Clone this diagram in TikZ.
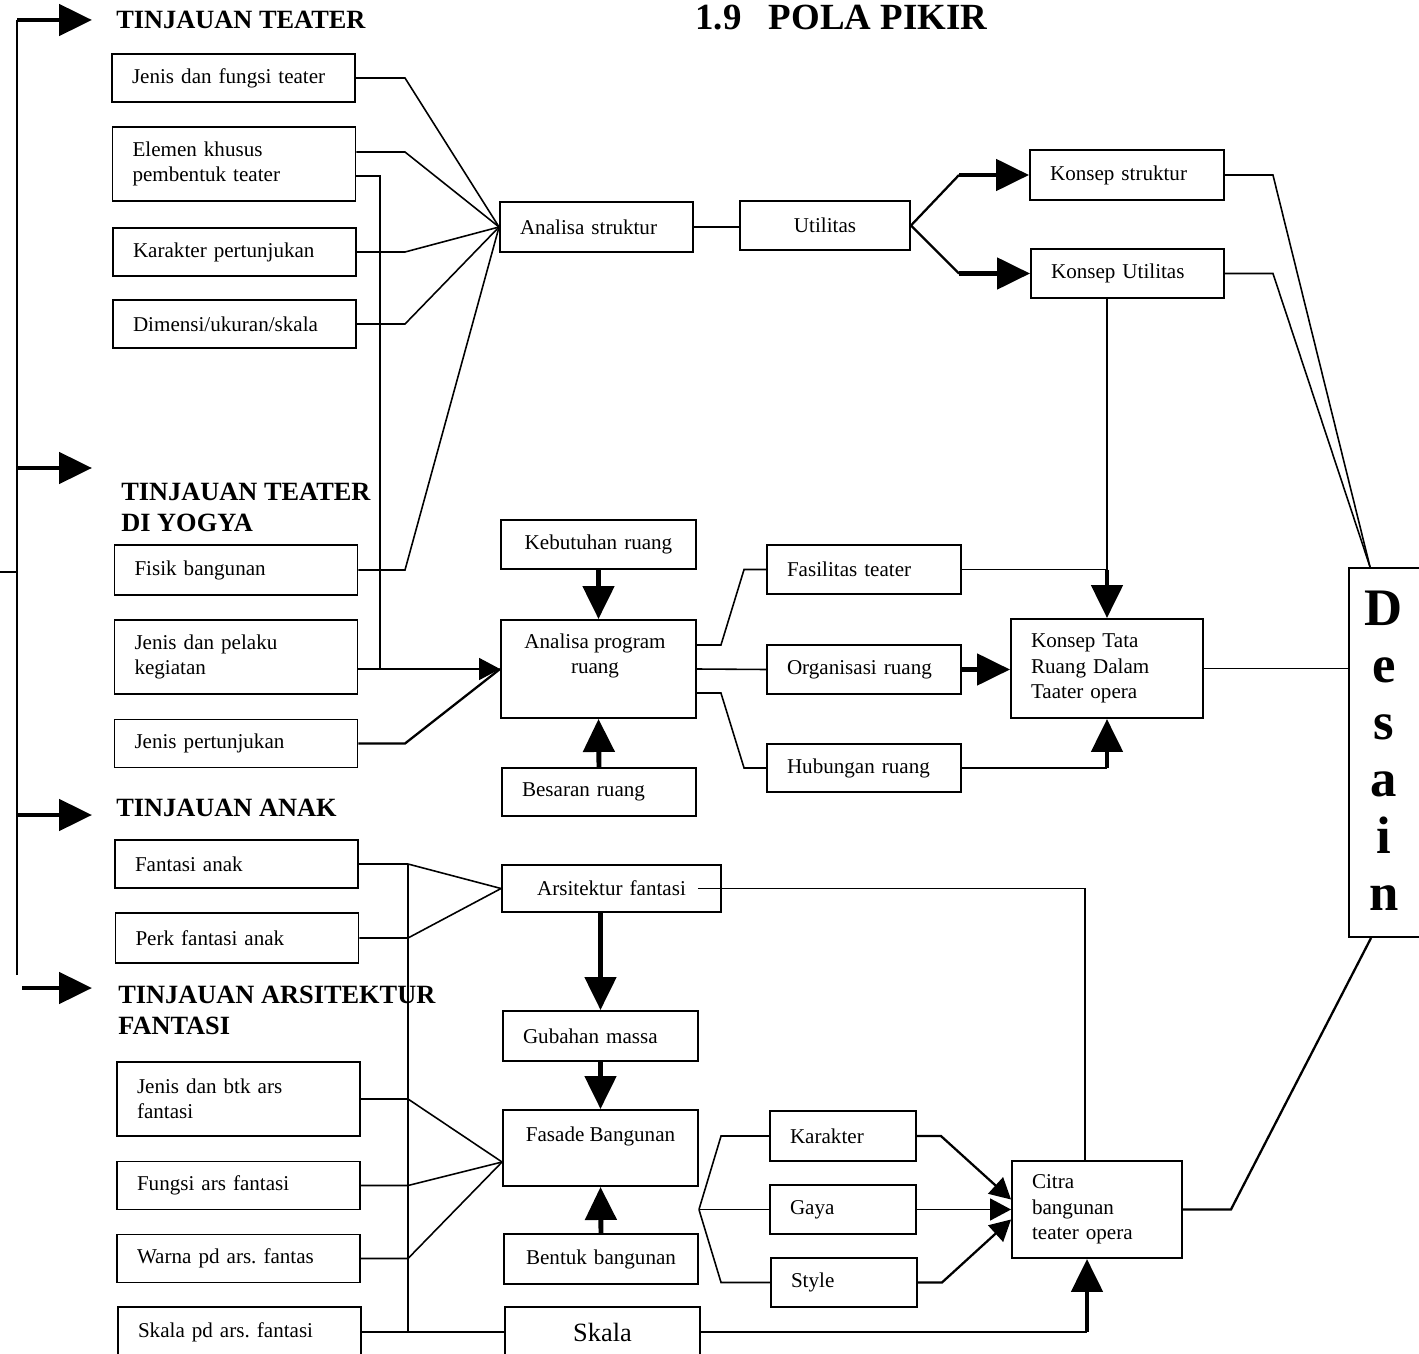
\documentclass[tikz,border=0pt]{standalone}
\usepackage{fontspec}
\setmainfont{Liberation Serif}
\usetikzlibrary{arrows.meta,calc}
\frenchspacing

\tikzset{
  kotak/.style={draw, line width=1.1pt, inner xsep=0.4cm, inner ysep=0pt, align=left,
    font=\fontsize{12}{14.4}\selectfont},
  kiri/.style={kotak, text width=4.06cm, minimum height=#1},
  kiri/.default=0.96cm,
  teks/.style={inner sep=0pt, align=center, font=\fontsize{12}{14.4}\selectfont},
  garis/.style={line width=0.9pt},
  panah/.style={line width=2.8pt, -{Triangle[length=0.66cm,width=0.62cm]}},
  panahkecil/.style={line width=1.3pt, -{Triangle[length=0.42cm,width=0.44cm]}},
  judul/.style={font=\fontsize{15}{17.6}\selectfont\bfseries, anchor=base west, align=left, inner sep=0pt},
  judulbesar/.style={font=\fontsize{21}{25}\selectfont\bfseries, anchor=base west, inner sep=0pt},
}

\begin{document}
\begin{tikzpicture}[x=0.02cm,y=-0.02cm]
\useasboundingbox (0,0) rectangle (1419,1354);
%%% Judul
	\node[judulbesar] (judul) at (695,30) {1.9\hspace{0.55cm}POLA PIKIR};
%%% Garis kiri, panah ke tinjauan
	\draw[garis, line width=1.3pt] (17,975) -- (17,20);
	\draw[garis] (0,572) -- (17,572);
	\foreach \y/\n in {20/a,468/b,815/c}{
		\coordinate (ujung-\n) at (92,\y);
		\draw[panah] (17,\y) -- (ujung-\n);
	}
	\coordinate (ujung-d) at (92,988);
	\draw[panah] (22,988) -- (ujung-d);
	% baseline = baris terakhir
	\node[judul] (t-teater) at (116,29) {TINJAUAN TEATER};
	\node[judul] (t-yogya) at (121,531) {TINJAUAN TEATER\\DI YOGYA};
	\node[judul] (t-anak) at (116,816) {TINJAUAN ANAK};
	\node[judul] (t-ars) at (118,1034) {TINJAUAN ARSITEKTUR\\FANTASI};
%%% Tinjauan teater
	\node[kiri] (jenis) at (233.5,78) {Jenis dan fungsi teater};
	\node[kiri=1.48cm] (elemen) at (234,164) {Elemen khusus\\pembentuk teater};
	\node[kiri] (karakter) at (234.5,252) {Karakter pertunjukan};
	\node[kiri] (dimensi) at (234.5,324) {Dimensi/ukuran/skala};
%%% Tinjauan teater di Yogya
	\node[kiri=1.0cm] (fisik) at (236,570) {Fisik bangunan};
	\node[kiri=1.48cm] (pelaku) at (236,657) {Jenis dan pelaku\\kegiatan};
	\node[kiri] (jpert) at (236,743.5) {Jenis pertunjukan};
%%% Tinjauan anak
	\node[kiri] (fanak) at (236.5,864) {Fantasi anak};
	\node[kiri=1.0cm] (perk) at (237,938) {Perk fantasi anak};
%%% Tinjauan arsitektur fantasi
	\node[kiri=1.48cm] (jbtk) at (238.5,1099) {Jenis dan btk ars\\fantasi};
	\node[kiri] (fungsi) at (238.5,1185.5) {Fungsi ars fantasi};
	\node[kiri] (warna) at (238.5,1258.5) {Warna pd ars. fantas};
	\node[kiri=1.0cm] (skalapd) at (239.5,1332) {Skala pd ars. fantasi};
%%% Analisa dan konsep
	\node[kotak, text width=3.06cm, minimum height=1cm] (astruk) at (596.5,227) {Analisa struktur};
	\node[kotak, text width=2.6cm, align=center, minimum height=0.98cm] (util) at (825,225.5) {Utilitas};
	\node[kotak, text width=3.08cm, minimum height=1cm] (kstruk) at (1127,175) {Konsep struktur};
	\node[kotak, text width=3.06cm, minimum height=0.98cm] (kutil) at (1127.5,273.5) {Konsep Utilitas};
	\node[kotak, text width=3.1cm, align=center, minimum height=0.98cm] (kebut) at (598.5,544.5) {Kebutuhan ruang};
	\node[kotak, text width=3.1cm, minimum height=1.96cm] (aprog) at (598.5,669) {};
	\node[teks] (aprog-teks) at (595,656) {Analisa program\\ruang};
	\node[kotak, text width=3.08cm, minimum height=0.96cm] (besar) at (599,792) {Besaran ruang};
	\node[kotak, text width=3.08cm, minimum height=0.98cm] (fasil) at (864,569.5) {Fasilitas teater};
	\node[kotak, text width=3.08cm, minimum height=0.98cm] (organ) at (864,669.5) {Organisasi ruang};
	\node[kotak, text width=3.08cm, minimum height=0.96cm] (hubung) at (864,768) {Hubungan ruang};
	\node[kotak, text width=3.04cm, minimum height=1.98cm] (ktata) at (1107,668.5) {Konsep Tata\\Ruang Dalam\\Taater opera};
	\node[kotak, text width=3.58cm, align=center, minimum height=0.94cm] (arsfan) at (611.5,888.5) {Arsitektur fantasi};
	\node[kotak, text width=3.1cm, minimum height=1cm] (gubah) at (600.5,1036) {Gubahan massa};
	\node[kotak, text width=3.1cm, minimum height=1.52cm] (fasade) at (600.5,1148) {};
	\node[teks] (fasade-teks) at (600.5,1136) {Fasade Bangunan};
	\node[kotak, text width=3.08cm, align=center, minimum height=1cm] (bentuk) at (601,1259) {Bentuk bangunan};
	\node[kotak, text width=3.1cm, align=center, minimum height=1cm, font=\fontsize{15}{18}\selectfont] (skala) at (602.5,1332) {Skala};
	\node[kotak, text width=2.12cm, minimum height=1cm] (karak) at (843,1136) {Karakter};
	\node[kotak, text width=2.12cm, minimum height=0.98cm] (gaya) at (843,1209.5) {Gaya};
	\node[kotak, text width=2.12cm, minimum height=0.98cm] (stl) at (844,1282.5) {Style};
	\node[kotak, text width=2.6cm, minimum height=1.94cm] (citra) at (1097,1209.5) {Citra\\bangunan\\teater opera};
	\node[kotak, minimum width=1.72cm, minimum height=7.38cm, inner sep=0pt] (desain) at (1392,752.5) {};
	\node[inner sep=0pt, align=center, font=\fontsize{30}{32.4}\selectfont\bfseries] (desain-teks) at (1384,751) {D\\e\\s\\a\\i\\n};
%%% Garis ke analisa struktur dan program ruang
	\coordinate (tekukA) at (405,0);
	\coordinate (tekukB) at (380,0);
	\coordinate (tekukC) at (408,0);
	\coordinate (elemen-atas) at ([yshift=0.24cm]elemen.east);
	\coordinate (elemen-bawah) at ([yshift=-0.24cm]elemen.east);
	\foreach \n in {jenis,elemen-atas,karakter,dimensi,fisik}{
		\draw[garis] (\n.east) -- (\n.east -| tekukA) -- (astruk.west);
	}
	\draw[garis] (elemen-bawah) -| (tekukB |- aprog.west);
	\draw[panahkecil, line width=0.9pt] (pelaku.east |- aprog.west) -- (aprog.west);
	\draw[garis, line width=1.3pt] (jpert.east) -- (jpert.east -| tekukA) -- (aprog.west);
%%% Struktur dan utilitas
	\draw[garis] (astruk.east) -- (astruk.east -| util.west);
	\coordinate (tekukD) at (959,0);
	\foreach \n in {kstruk,kutil}{
		\draw[garis, line width=1.3pt] (util.east) -- (\n.west -| tekukD);
		\draw[panah] (\n.west -| tekukD) -- (\n.west);
	}
	\coordinate (desain-atas) at ($(desain.north west)+(22,0)$);
	\foreach \n in {kstruk,kutil}{
		\draw[garis] (\n.east) -- ++(48,0) -- (desain-atas);
	}
%%% Program ruang
	\draw[panah] (kebut.south) -- (aprog.north);
	\draw[panah] (besar.north) -- (aprog.south);
	\coordinate (aprog-atas) at ([yshift=0.48cm]aprog.east);
	\coordinate (aprog-bawah) at ([yshift=-0.48cm]aprog.east);
	\draw[garis] (aprog-atas) -- ++(24,0) -- ($(fasil.west)+(-22,0)$) -- (fasil.west);
	\draw[garis] (aprog.east) -- (organ.west);
	\draw[garis] (aprog-bawah) -- ++(24,0) -- ($(hubung.west)+(-22,0)$) -- (hubung.west);
	\draw[panah] (organ.east) -- (organ.east -| ktata.west);
	\draw[garis] (fasil.east) -- (fasil.east -| ktata.north);
	\draw[garis] (kutil.south -| ktata.north) -- (fasil.east -| ktata.north);
	\draw[panah] (fasil.east -| ktata.north) -- (ktata.north);
	\draw[garis] (hubung.east) -- (hubung.east -| ktata.south);
	\draw[panah] (hubung.east -| ktata.south) -- (ktata.south);
	\draw[garis] (ktata.east) -- (ktata.east -| desain.west);
%%% Arsitektur fantasi
	\foreach \n in {fanak,perk}{
		\draw[garis] (\n.east) -- (\n.east -| tekukC) -- (arsfan.west);
	}
	\coordinate (fasade-kiri) at ([yshift=-0.28cm]fasade.west);
	\foreach \n in {jbtk,fungsi,warna}{
		\draw[garis] (\n.east) -- (\n.east -| tekukC) -- (fasade-kiri);
	}
	\draw[garis] (fanak.east -| tekukC) -- (tekukC |- skala.west) -- (skala.west);
	\draw[garis] (skalapd.east) -- (skala.west);
	\draw[panah] (arsfan.south -| gubah.north) -- (gubah.north);
	\draw[panah] (gubah.south) -- (fasade.north);
	\draw[panah] (bentuk.north) -- (fasade.south);
%%% Citra bangunan
	\coordinate (cabang) at (fasade.east |- gaya.west);
	\draw[garis] (cabang) -- ($(karak.west)+(-48,0)$) -- (karak.west);
	\draw[garis] (cabang) -- (gaya.west);
	\draw[garis] (cabang) -- ($(stl.west)+(-49,0)$) -- (stl.west);
	\draw[panahkecil] (karak.east) -- ++(24,0) -- ([yshift=0.2cm]citra.west);
	\draw[panahkecil, line width=0.9pt] (gaya.east) -- (gaya.east -| citra.west);
	\draw[panahkecil] (stl.east) -- ++(24,0) -- ([yshift=-0.2cm]citra.west);
	\coordinate (citra-atas) at ([xshift=-0.24cm]citra.north);
	\draw[garis] ($(arsfan.east)+(-24,0)$) -- (arsfan.east -| citra-atas) -- (citra-atas);
	\coordinate (citra-bawah) at ([xshift=-0.2cm]citra.south);
	\draw[garis] (skala.east) -- (skala.east -| citra-bawah);
	\draw[panah] (skala.east -| citra-bawah) -- (citra-bawah);
	\draw[garis, line width=1.3pt] (citra.east) -- ++(48,0) -- ($(desain.south west)+(23,0)$);
\end{tikzpicture}
\end{document}
